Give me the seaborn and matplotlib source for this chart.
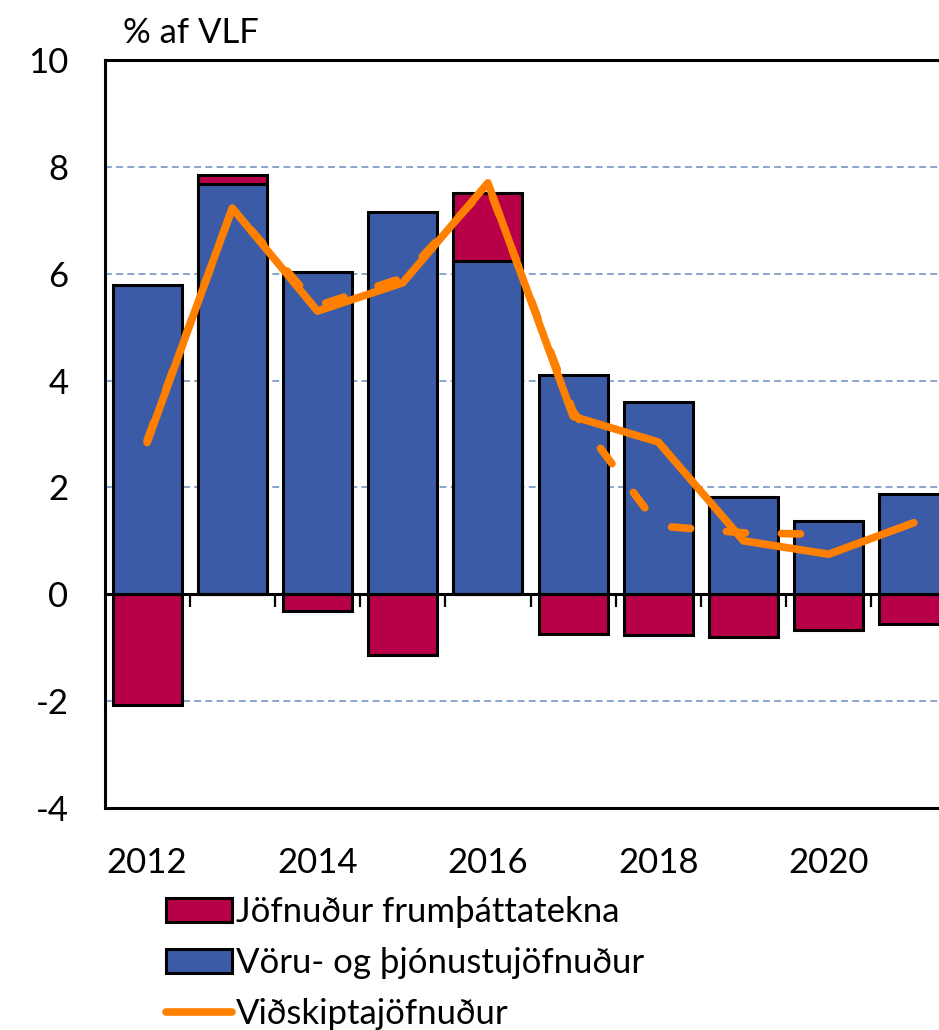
import numpy as np
import seaborn as sns
import matplotlib.pyplot as plt
from matplotlib.lines import Line2D

# Data (% af VLF)
years = np.array([2012, 2013, 2014, 2015, 2016, 2017, 2018, 2019, 2020, 2021])
goods_services = np.array([5.78, 7.68, 6.04, 7.16, 6.23, 4.10, 3.59, 1.83, 1.38, 1.88])
primary_income = np.array([-2.07, 0.17, -0.32, -1.13, 1.29, -0.74, -0.77, -0.80, -0.66, -0.56])
current_account = np.array([2.84, 7.23, 5.30, 5.83, 7.70, 3.33, 2.85, 1.00, 0.75, 1.34])
current_account_prev = np.array([2.88, 7.22, 5.40, 5.92, 7.66, 3.42, 1.28, 1.15, 1.12, np.nan])
tick_years = [2012, 2014, 2016, 2018, 2020]

labels = ["Jöfnuður frumþáttatekna", "Vöru- og þjónustujöfnuður", "Viðskiptajöfnuður"]

blue = "#3B5BA7"
red = "#B70048"
orange = "#FF8000"
grid_col = "#6A8CBE"

plt.rcParams['font.family'] = ['Lato', 'DejaVu Sans']
plt.rcParams['axes.unicode_minus'] = False
fs = 25

fig = plt.figure(figsize=(9.39, 10.30), dpi=100)
ax = fig.add_axes([104.5 / 939, 222 / 1030, 852 / 939, 748 / 1030])

# red part sits on top of the blue bar when positive
red_top = np.where(primary_income > 0, goods_services + primary_income, primary_income)
sns.barplot(x=years, y=red_top, native_scale=True, orient="x", width=0.81, color=red,
            saturation=1, edgecolor="black", linewidth=2.2, errorbar=None, ax=ax)
sns.barplot(x=years, y=goods_services, native_scale=True, orient="x", width=0.81, color=blue,
            saturation=1, edgecolor="black", linewidth=2.2, errorbar=None, ax=ax)

sns.lineplot(x=years, y=current_account_prev, color=orange, linewidth=5.5,
             linestyle=(0, (2.5, 4.7)), dash_capstyle="round", dash_joinstyle="round", ax=ax)
sns.lineplot(x=years, y=current_account, color=orange, linewidth=5.5,
             solid_capstyle="round", solid_joinstyle="round", ax=ax)

ax.set_xlim(2011.5, 2021.5)
ax.set_ylim(-4, 10)
ax.set_yticks(range(-4, 11, 2))
ax.set_xticks(tick_years)
ax.set_xticklabels([str(y) for y in tick_years])
ax.tick_params(axis="x", length=0, pad=28, labelsize=fs)
ax.tick_params(axis="y", length=0, pad=26, labelsize=fs)
ax.set_xlabel("")
ax.set_ylabel("")

ax.set_axisbelow(True)
ax.yaxis.grid(True, color=grid_col, linewidth=1.1, linestyle=(0, (4.5, 2.8)))
ax.xaxis.grid(False)
for side in ["left", "top", "bottom"]:
    ax.spines[side].set_linewidth(2.2)
    ax.spines[side].set_color("black")
ax.spines["right"].set_visible(False)

# zero axis with category boundary ticks
zero = ax.secondary_xaxis(4 / 14)
zero.set_xticks(np.arange(2012.5, 2021.0, 1.0))
zero.set_xticklabels([])
zero.tick_params(axis="x", length=9, width=1.6, direction="out", color="black")
zero.spines["bottom"].set_linewidth(2.2)
zero.set_zorder(2.5)

fig.text(123 / 939, 1 - 43 / 1030, "% af VLF", fontsize=fs, ha="left", va="baseline")

handles = [ax.containers[0], ax.containers[1],
           Line2D([0], [0], color=orange, linewidth=5.5, solid_capstyle="round")]
fig.legend(handles, labels, loc="upper left", bbox_to_anchor=(166 / 939, 1 - 896 / 1030),
           frameon=False, fontsize=fs, borderpad=0, handlelength=1.9, handleheight=0.7,
           handletextpad=0.12, labelspacing=0.55, borderaxespad=0)

fig.savefig("out.png", dpi=100)
